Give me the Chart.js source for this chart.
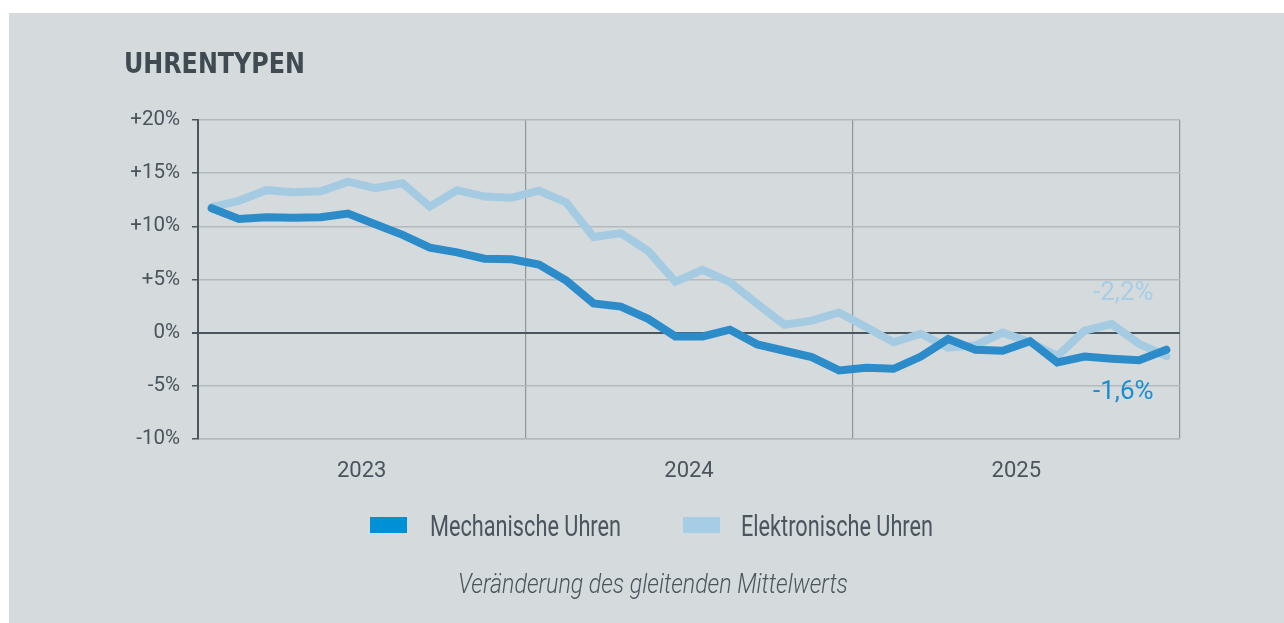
<!DOCTYPE html>
<html lang="de">
    <head>
        <meta charset="UTF-8" />
        <title>Uhrentypen</title>
        <style>
            body {
                margin: 0;
                background: #ffffff;
            }
            .frame {
                position: relative;
                width: 1284px;
                height: 623px;
                overflow: hidden;
                background: #ffffff;
            }
            .panel {
                position: absolute;
                left: 9px;
                top: 13px;
                right: 0;
                bottom: 0;
                background: #d5dadd;
            }
            #chart {
                position: absolute;
                left: 0;
                top: 0;
            }
            /* condensed look: text gets squeezed to the reference width in the script below */
            .fit {
                position: absolute;
                white-space: nowrap;
                transform-origin: 0 0;
            }
            .title {
                left: 124px;
                top: 46px;
                font-family: "DejaVu Sans Condensed", "DejaVu Sans", sans-serif;
                font-weight: bold;
                font-size: 29px;
                color: #3f4a52;
            }
            .legend {
                top: 509px;
                font-family: Roboto, sans-serif;
                font-weight: 400;
                font-size: 29px;
                color: #4a555e;
            }
            .swatch {
                position: absolute;
                width: 37px;
                height: 16px;
                top: 517px;
            }
            .subtitle {
                left: 458px;
                top: 567px;
                font-family: Roboto, sans-serif;
                font-weight: 300;
                font-style: italic;
                font-size: 28px;
                color: #4a555e;
            }
            .endlabel {
                position: absolute;
                font-family: Roboto, "Liberation Sans", sans-serif;
                font-size: 26px;
                white-space: nowrap;
            }
        </style>
    </head>
    <body>
        <div class="frame">
            <div class="panel"></div>
            <canvas id="chart" width="1284" height="623"></canvas>

            <div class="fit title" data-w="181">UHRENTYPEN</div>

            <!-- legend -->
            <div class="swatch" style="left: 370px; background: #0090d5"></div>
            <div class="fit legend" data-w="191" style="left: 430px">Mechanische Uhren</div>
            <div class="swatch" style="left: 683px; background: #a5cde6"></div>
            <div class="fit legend" data-w="192" style="left: 741px">Elektronische Uhren</div>

            <div class="fit subtitle" data-w="390">Veränderung des gleitenden Mittelwerts</div>

            <!-- end values -->
            <div class="endlabel" style="left: 1093px; top: 276px; color: #a6cee6">-2,2%</div>
            <div class="endlabel" style="left: 1093px; top: 375px; color: #1a8fcf">-1,6%</div>
        </div>

        <script src="https://cdn.jsdelivr.net/npm/chart.js"></script>
        <script>
            // Monate (Jan 2023 - Dez 2025)
            const monate = [
                "01/23", "02/23", "03/23", "04/23", "05/23", "06/23",
                "07/23", "08/23", "09/23", "10/23", "11/23", "12/23",
                "01/24", "02/24", "03/24", "04/24", "05/24", "06/24",
                "07/24", "08/24", "09/24", "10/24", "11/24", "12/24",
                "01/25", "02/25", "03/25", "04/25", "05/25", "06/25",
                "07/25", "08/25", "09/25", "10/25", "11/25", "12/25",
            ];
            const jahre = ["2023", "2024", "2025"];

            // Veränderung in %
            const mechanisch = [
                11.7, 10.7, 10.85, 10.8, 10.85, 11.2, 10.2, 9.2, 8.0, 7.55, 6.95, 6.9,
                6.4, 4.9, 2.75, 2.45, 1.3, -0.35, -0.35, 0.28, -1.1, -1.7, -2.3, -3.55,
                -3.3, -3.4, -2.25, -0.6, -1.6, -1.7, -0.8, -2.8, -2.25, -2.45, -2.6, -1.6,
            ];
            const elektronisch = [
                11.8, 12.4, 13.4, 13.2, 13.3, 14.2, 13.6, 14.05, 11.85, 13.4, 12.8, 12.7,
                13.35, 12.25, 9.0, 9.35, 7.7, 4.8, 5.9, 4.75, 2.7, 0.75, 1.13, 1.9,
                0.5, -0.9, -0.1, -1.4, -1.2, 0.0, -0.9, -2.2, 0.2, 0.8, -1.05, -2.2,
            ];
            const yTicks = [-10, -5, 0, 5, 10, 15, 20];

            // squeeze the condensed texts to their width
            document.querySelectorAll(".fit").forEach(function (el) {
                const w = el.getBoundingClientRect().width;
                el.style.transform = "scaleX(" + el.dataset.w / w + ")";
            });

            // each month sits in the middle of its slot on a 0..36 axis
            function toPoints(values) {
                return values.map(function (v, i) {
                    return { x: i + 0.5, y: v, monat: monate[i] };
                });
            }

            const dark = "#4b555d";
            const light = "#b4b9bd";

            const config = {
                type: "line",
                data: {
                    datasets: [
                        {
                            label: "Mechanische Uhren",
                            data: toPoints(mechanisch),
                            borderColor: "#2b8cc9",
                            borderWidth: 8,
                            borderCapStyle: "round",
                            pointRadius: 0,
                            tension: 0,
                        },
                        {
                            label: "Elektronische Uhren",
                            data: toPoints(elektronisch),
                            borderColor: "#a4cbe2",
                            borderWidth: 8,
                            borderCapStyle: "round",
                            pointRadius: 0,
                            tension: 0,
                        },
                    ],
                },
                options: {
                    responsive: false,
                    animation: false,
                    layout: {
                        padding: { top: 120, right: 104, bottom: 0, left: 0 },
                    },
                    plugins: {
                        legend: { display: false },
                        tooltip: { enabled: false },
                    },
                    scales: {
                        x: {
                            type: "linear",
                            min: 0,
                            max: 36,
                            afterFit: function (scale) {
                                scale.height = 184;
                            },
                            ticks: {
                                stepSize: 6,
                                autoSkip: false,
                                maxRotation: 0,
                                padding: 19,
                                color: "#4a545c",
                                font: { family: "Roboto", size: 22 },
                                callback: function (value) {
                                    if ((value - 6) % 12 === 0) {
                                        return jahre[(value - 6) / 12];
                                    }
                                    return "";
                                },
                            },
                            grid: {
                                drawTicks: false,
                                lineWidth: 1.2,
                                color: function (ctx) {
                                    const v = ctx.tick ? ctx.tick.value : 0;
                                    return v > 0 && v % 12 === 0 ? "#8f959b" : "rgba(0,0,0,0)";
                                },
                            },
                            border: { color: light, width: 1.5 },
                        },
                        y: {
                            min: -10,
                            max: 20,
                            afterFit: function (scale) {
                                scale.width = 198;
                            },
                            afterBuildTicks: function (scale) {
                                scale.ticks = yTicks.map(function (v) {
                                    return { value: v };
                                });
                            },
                            ticks: {
                                padding: 12,
                                color: "#4a545c",
                                font: { family: "Roboto", size: 20.5 },
                                callback: function (value) {
                                    return (value > 0 ? "+" : "") + value + "%";
                                },
                            },
                            grid: {
                                tickLength: 6,
                                tickColor: dark,
                                color: function (ctx) {
                                    return ctx.tick && ctx.tick.value === 0 ? dark : light;
                                },
                                lineWidth: function (ctx) {
                                    return ctx.tick && ctx.tick.value === 0 ? 2 : 1.5;
                                },
                            },
                            border: { color: dark, width: 2 },
                        },
                    },
                },
            };

            const chart = new Chart(document.getElementById("chart"), config);
        </script>
    </body>
</html>
